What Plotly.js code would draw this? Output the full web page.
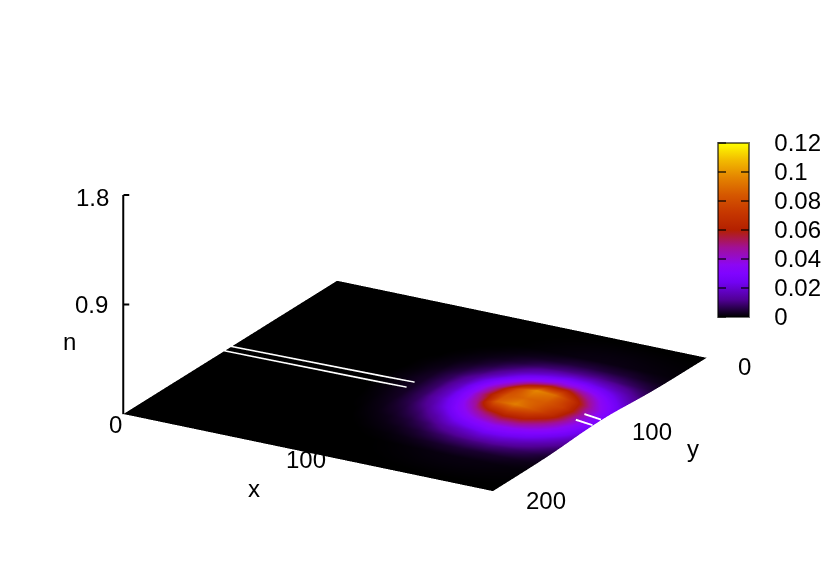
<!DOCTYPE html>
<html>
<head>
<meta charset="utf-8">
<script src="https://cdn.plot.ly/plotly-3.0.1.min.js"></script>
<style>
  html, body { margin: 0; padding: 0; background: #fff; }
  #chart { width: 830px; height: 581px; }
</style>
</head>
<body>
<div id="chart"></div>
<script>
var xValues = [0, 80, 90, 100, 110, 120, 130, 140, 150, 160, 170, 180, 190, 200];
var yValues = [0, 30, 40, 50, 60, 70, 80, 90, 100, 110, 120, 130, 140, 150, 160, 170, 200];

// density, one row per y
var density = [
  [0, 0, 0, 0, 0, 0, 0, 0, 0, 0, 0, 0, 0, 0],
  [0, 0, 0, 0, 0.0001, 0.0004, 0.0008, 0.0012, 0.0016, 0.0018, 0.0018, 0.0015, 0.0012, 0.0009],
  [0, 0, 0, 0.0002, 0.0006, 0.0014, 0.0025, 0.0035, 0.005, 0.0055, 0.005, 0.0045, 0.003, 0.002],
  [0, 0, 0.0001, 0.0006, 0.0016, 0.003, 0.0055, 0.009, 0.011, 0.012, 0.012, 0.01, 0.0075, 0.0046],
  [0, 0, 0.0003, 0.0013, 0.0028, 0.006, 0.011, 0.017, 0.022, 0.025, 0.024, 0.02, 0.015, 0.009],
  [0, 0, 0.0008, 0.002, 0.005, 0.01, 0.018, 0.028, 0.036, 0.042, 0.04, 0.033, 0.024, 0.015],
  [0, 0, 0.001, 0.003, 0.0075, 0.015, 0.027, 0.04, 0.057, 0.068, 0.066, 0.05, 0.034, 0.022],
  [0, 0.0002, 0.0015, 0.0035, 0.0088, 0.018, 0.033, 0.052, 0.078, 0.097, 0.09, 0.068, 0.044, 0.027],
  [0, 0.0003, 0.0015, 0.0035, 0.009, 0.019, 0.034, 0.057, 0.083, 0.088, 0.085, 0.074, 0.047, 0.028],
  [0, 0.0002, 0.0015, 0.0033, 0.0085, 0.018, 0.031, 0.05, 0.085, 0.095, 0.083, 0.066, 0.042, 0.026],
  [0, 0, 0.001, 0.0028, 0.007, 0.014, 0.025, 0.038, 0.053, 0.063, 0.06, 0.047, 0.033, 0.021],
  [0, 0, 0.0006, 0.002, 0.0046, 0.009, 0.016, 0.026, 0.033, 0.038, 0.036, 0.03, 0.022, 0.014],
  [0, 0, 0.0002, 0.0012, 0.0025, 0.005, 0.009, 0.015, 0.019, 0.023, 0.022, 0.018, 0.013, 0.008],
  [0, 0, 0, 0.0005, 0.0014, 0.0025, 0.0045, 0.0075, 0.01, 0.011, 0.011, 0.009, 0.0065, 0.0035],
  [0, 0, 0, 0.0001, 0.0005, 0.001, 0.002, 0.003, 0.004, 0.0045, 0.004, 0.0035, 0.0026, 0.0018],
  [0, 0, 0, 0, 0.0001, 0.0003, 0.0006, 0.001, 0.0014, 0.0016, 0.0016, 0.0014, 0.0011, 0.0008],
  [0, 0, 0, 0, 0, 0, 0, 0, 0, 0, 0, 0, 0, 0]
];

// the two white stripes across the surface (x, y, z per stripe, null breaks it)
var stripeX = [0, 98, null, 0, 98, null, 191, 200, null, 191, 200];
var stripeY = [99.5, 97, null, 106, 104.5, null, 99, 99, null, 107, 107];
var stripeZ = [0.002, 0.004, null, 0.002, 0.004, null, 0.05, 0.032, null, 0.047, 0.03];

var zTicks = [0, 0.9, 1.8];
var barTicks = [0, 0.02, 0.04, 0.06, 0.08, 0.1, 0.12];
var barLabels = ['0', '0.02', '0.04', '0.06', '0.08', '0.1', '0.12'];

// label, x, y, z, pixel offset from that point
var labelText = ['0', '0.9', '1.8', 'n', '100', 'x', '200', '100', '0', 'y'];
var labelX = [0, 0, 0, 0, 100, 100, 200, 200, 200, 200];
var labelY = [200, 200, 200, 200, 200, 200, 200, 100, 0, 100];
var labelZ = [0, 0.9, 1.8, 0.6, 0, 0, 0, 0, 0, 0];
var labelDx = [-8, -32, -31, -54, -2, -54, 53, 52, 38, 93];
var labelDy = [-10, 0, -2, 0, -7, -36, -9, -7, -9, -24];

// gnuplot default palette, rgbformulae 7,5,15
var palette = [
  [0, 'rgb(0,0,0)'], [0.1, 'rgb(81,0,150)'], [0.2, 'rgb(114,2,243)'], [0.25, 'rgb(128,4,255)'],
  [0.3, 'rgb(140,7,243)'], [0.4, 'rgb(161,16,150)'], [0.5, 'rgb(180,32,0)'], [0.6, 'rgb(198,55,0)'],
  [0.7, 'rgb(213,87,0)'], [0.8, 'rgb(228,131,0)'], [0.9, 'rgb(242,186,0)'], [1, 'rgb(255,255,0)']
];
var clearScale = [[0, 'rgba(0,0,0,0)'], [1, 'rgba(0,0,0,0)']];

var labelFont = { family: '"Liberation Sans", sans-serif', size: 24, color: '#000' };

// colorbar box in pixels
var barLeft = 718, barRight = 749, barTop = 143, barBottom = 317;
var tickInk = 'rgba(0,0,0,0.6)';

function barBase(leftPx, thicknessPx) {
  return {
    x: leftPx / 830,
    xanchor: 'left',
    xpad: 0,
    y: 1 - (barTop + barBottom) / 2 / 581,
    yanchor: 'middle',
    ypad: 0,
    len: barBottom - barTop,
    lenmode: 'pixels',
    thickness: thicknessPx,
    thicknessmode: 'pixels',
    tickmode: 'array',
    tickvals: barTicks,
    ticktext: barLabels
  };
}

var mainBar = barBase(barLeft, barRight - barLeft);
mainBar.outlinecolor = 'rgba(0,0,0,0.55)';
mainBar.outlinewidth = 2;
mainBar.ticks = 'outside';
mainBar.ticklen = 20;
mainBar.tickcolor = 'rgba(0,0,0,0)';
mainBar.tickfont = labelFont;

var surface = {
  type: 'surface',
  x: xValues,
  y: yValues,
  z: density,
  cmin: 0,
  cmax: 0.12,
  colorscale: palette,
  hoverinfo: 'skip',
  lighting: { ambient: 1, diffuse: 0, specular: 0, roughness: 1, fresnel: 0 },
  colorbar: mainBar
};

// empty colorbars that only carry the tick marks inside the real one
function tickBar(leftPx, side) {
  var bar = barBase(leftPx, 1);
  bar.outlinewidth = 0;
  bar.ticks = side;
  bar.ticklen = 8;
  bar.tickwidth = 2;
  bar.tickcolor = tickInk;
  bar.showticklabels = false;
  return {
    type: 'scatter3d',
    mode: 'markers',
    x: [0, 0],
    y: [0, 0],
    z: [0, 0],
    marker: {
      size: 1, opacity: 0, color: [0, 0.12], cmin: 0, cmax: 0.12,
      colorscale: clearScale, showscale: true, colorbar: bar
    },
    hoverinfo: 'skip',
    showlegend: false
  };
}

var stripes = {
  type: 'scatter3d',
  mode: 'lines',
  x: stripeX,
  y: stripeY,
  z: stripeZ,
  line: { color: '#fff', width: 5 },
  connectgaps: false,
  hoverinfo: 'skip',
  showlegend: false
};

// z axis line and its ticks, at the x=0, y=200 corner
var axisX = [0, 0, null], axisY = [200, 200, null], axisZ = [0, 1.8, null];
zTicks.slice(1).forEach(function (t) {
  axisX.push(0, 2.4, null);
  axisY.push(200, 198.6, null);
  axisZ.push(t, t, null);
});

var zAxisLine = {
  type: 'scatter3d',
  mode: 'lines',
  x: axisX,
  y: axisY,
  z: axisZ,
  line: { color: '#000', width: 4 },
  connectgaps: false,
  hoverinfo: 'skip',
  showlegend: false
};

var annotations = labelText.map(function (t, i) {
  return {
    x: labelX[i], y: labelY[i], z: labelZ[i],
    text: t,
    showarrow: false,
    xshift: labelDx[i],
    yshift: labelDy[i],
    font: labelFont
  };
});

var eyeDist = 3;
var centerZ = -0.052;
var zoomFactor = 1.47;

var layout = {
  width: 830,
  height: 581,
  margin: { l: 0, r: 0, t: 0, b: 0, autoexpand: false },
  paper_bgcolor: '#fff',
  showlegend: false,
  scene: {
    domain: { x: [0, 1], y: [0, 1] },
    bgcolor: '#fff',
    aspectmode: 'manual',
    aspectratio: { x: zoomFactor, y: zoomFactor, z: 0.5622 * zoomFactor },
    xaxis: { visible: false, range: [0, 200] },
    yaxis: { visible: false, range: [200, 0] },
    zaxis: { visible: false, range: [-0.02, 1.82] },
    camera: {
      projection: { type: 'orthographic' },
      up: { x: 0, y: 0, z: 1 },
      center: { x: 0, y: 0, z: centerZ },
      eye: { x: 0.4669 * eyeDist, y: -0.8074 * eyeDist, z: 0.3607 * eyeDist + centerZ }
    },
    annotations: annotations
  }
};

var traces = [surface, stripes, zAxisLine, tickBar(barLeft - 1, 'outside'), tickBar(barRight - 1, 'inside')];
Plotly.newPlot('chart', traces, layout, { displayModeBar: false });
</script>
</body>
</html>
